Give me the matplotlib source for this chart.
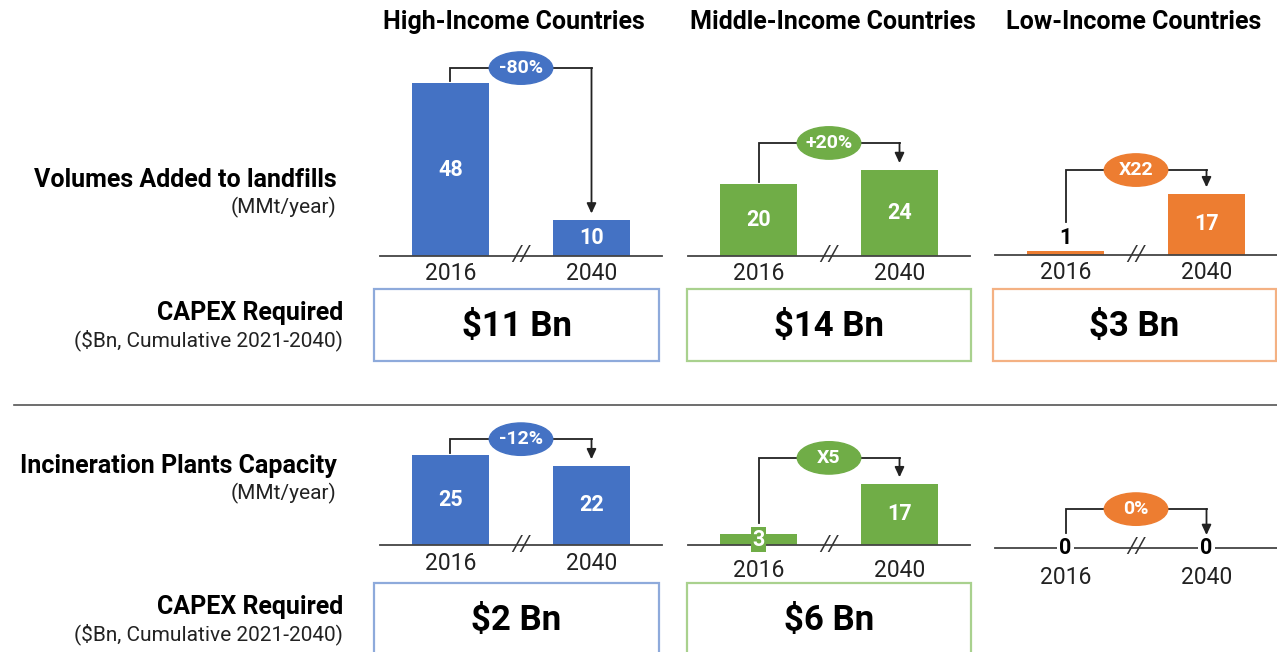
import matplotlib
matplotlib.use('Agg')
import matplotlib.pyplot as plt
from matplotlib.patches import Ellipse, Rectangle

plt.rcParams['font.family'] = ['Roboto', 'DejaVu Sans']

# ---- data ----
groups = ['High-Income Countries', 'Middle-Income Countries', 'Low-Income Countries']
years = ['2016', '2040']
landfill = [[48, 10], [20, 24], [1, 17]]
landfill_change = ['-80%', '+20%', 'X22']
landfill_capex = ['$11 Bn', '$14 Bn', '$3 Bn']
incin = [[25, 22], [3, 17], [0, 0]]
incin_change = ['-12%', 'X5', '0%']
incin_capex = ['$2 Bn', '$6 Bn', None]

colors = ['#4472C4', '#70AD47', '#ED7D31']
box_colors = ['#8EAADB', '#A9D18E', '#F4B183']

# ---- layout (pixels) ----
W, H = 1277, 652
PX = 3.6          # pixels per MMt
YMAX = 60
col_left = [380, 688, 995]
col_w = 282
title_x = [514, 833, 1134]
base_top = [256, 256, 255]
base_bot = [545, 545, 548]
bracket_top = [52.2, 31.4, 23.6]
bracket_bot = [29.4, 24.2, 10.8]
pad_top = [4, 4, 4]
pad_bot = [5, 10, 13]
ink = '#222222'


def fr(x, y_top, w, h):
    return [x / W, 1 - (y_top + h) / H, w / W, h / H]


def panel(ax, vals, change, color, yb, pad):
    ax.set_xlim(-0.5, 1.5)
    ax.set_ylim(0, YMAX)
    ax.patch.set_alpha(0)
    for s in ['top', 'left', 'right']:
        ax.spines[s].set_visible(False)
    ax.spines['bottom'].set_color('#444444')
    ax.spines['bottom'].set_linewidth(1.3)
    ax.set_yticks([])
    ax.set_xticks([0, 1])
    ax.set_xticklabels(years, fontsize=16.5, color=ink)
    ax.tick_params(axis='x', length=0, pad=pad)

    ax.bar([0, 1], vals, width=0.55, color=color, zorder=2)

    starts = []
    tips = []
    for i, v in enumerate(vals):
        if v >= 5:
            ax.text(i, v / 2, str(v), ha='center', va='center', color='white',
                    fontsize=15.5, fontweight='bold', zorder=3)
            starts.append(v + 0.5)
            tips.append(v + 1.8)
        elif v == 0:
            ax.text(i, 0, str(v), ha='center', va='center', color='black',
                    fontsize=15.5, fontweight='bold', zorder=3,
                    bbox=dict(boxstyle='square,pad=0.1', fc='white', ec='none'))
            starts.append(v + 4.2)
            tips.append(v + 3.6)
        elif v >= 2:
            ax.text(i, v / 2, str(v), ha='center', va='center', color='white',
                    fontsize=15.5, fontweight='bold', zorder=3,
                    bbox=dict(boxstyle='square,pad=0.06', fc=color, ec='none'))
            starts.append(v + 3.0)
            tips.append(v + 2)
        else:
            ax.text(i, v + 0.8, str(v), ha='center', va='bottom', color='black',
                    fontsize=15.5, fontweight='bold', zorder=3)
            starts.append(v + 8.2)
            tips.append(v + 2)

    ax.plot([0, 0, 1], [starts[0], yb, yb], color=ink, lw=1.3,
            solid_joinstyle='miter', zorder=3, clip_on=False)
    ax.annotate('', xy=(1, tips[1]), xytext=(1, yb),
                arrowprops=dict(arrowstyle='-|>,head_width=0.28,head_length=0.6',
                                color=ink, lw=1.3, shrinkA=0, shrinkB=0),
                zorder=3, annotation_clip=False)
    ax.add_patch(Ellipse((0.5, yb), 0.45, 9.0, color=color, zorder=4, clip_on=False))
    ax.text(0.5, yb, change, ha='center', va='center', color='white',
            fontsize=14, fontweight='bold', zorder=5)
    ax.text(0.5, 0, '//', ha='center', va='center', color='#333333',
            fontsize=16, style='italic', zorder=3)


fig = plt.figure(figsize=(W / 100, H / 100), dpi=100)

# column titles
for i, g in enumerate(groups):
    fig.text(title_x[i] / W, 1 - 22 / H, g, ha='center', va='center',
             fontsize=18, fontweight='bold', color='black')


# row labels
def row_label(y, main, sub, x_main, x_sub):
    fig.text(x_main / W, 1 - y / H, main, ha='right', va='center',
             fontsize=18, fontweight='bold', color='black')
    fig.text(x_sub / W, 1 - (y + 27) / H, sub, ha='right', va='center',
             fontsize=15, color=ink)


row_label(180, 'Volumes Added to landfills', '(MMt/year)', 337, 336)
row_label(313, 'CAPEX Required', '($Bn, Cumulative 2021-2040)', 343, 343)
row_label(466, 'Incineration Plants Capacity', '(MMt/year)', 337, 336)
row_label(607, 'CAPEX Required', '($Bn, Cumulative 2021-2040)', 343, 343)

# separator
fig.add_artist(plt.Line2D([14 / W, 1], [1 - 405 / H, 1 - 405 / H],
                          color='#555555', lw=1.2, transform=fig.transFigure))

box_x = [374, 687, 993]
box_w = [285, 284, 283]

for i in range(3):
    ax = fig.add_axes(fr(col_left[i], base_top[i] - YMAX * PX, col_w, YMAX * PX))
    panel(ax, landfill[i], landfill_change[i], colors[i], bracket_top[i], pad_top[i])

    ax2 = fig.add_axes(fr(col_left[i], base_bot[i] - YMAX * PX, col_w, YMAX * PX))
    panel(ax2, incin[i], incin_change[i], colors[i], bracket_bot[i], pad_bot[i])

    fig.add_artist(Rectangle((box_x[i] / W, 1 - 361 / H), box_w[i] / W, 72 / H,
                             transform=fig.transFigure, fill=False,
                             ec=box_colors[i], lw=1.6))
    fig.text((box_x[i] + box_w[i] / 2) / W, 1 - 326 / H, landfill_capex[i],
             ha='center', va='center', fontsize=25, fontweight='bold', color='black')

    if incin_capex[i] is not None:
        fig.add_artist(Rectangle((box_x[i] / W, 1 - 672 / H), box_w[i] / W, 89 / H,
                                 transform=fig.transFigure, fill=False,
                                 ec=box_colors[i], lw=1.6))
        fig.text((box_x[i] + box_w[i] / 2) / W, 1 - 620 / H, incin_capex[i],
                 ha='center', va='center', fontsize=25, fontweight='bold', color='black')

fig.savefig('out.png', dpi=100, facecolor='white')
